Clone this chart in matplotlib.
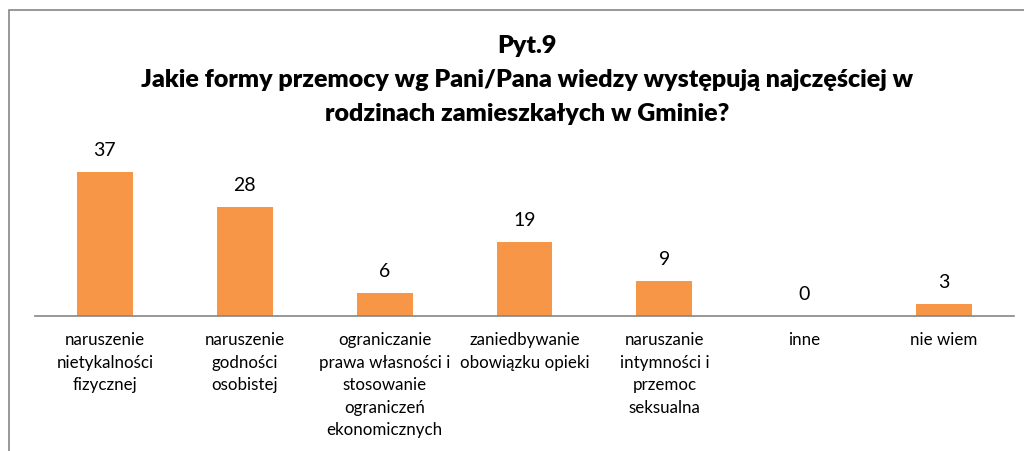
import matplotlib
matplotlib.use("Agg")
import matplotlib.pyplot as plt
from matplotlib.patches import Rectangle

plt.rcParams['font.family'] = ['Lato', 'Open Sans', 'DejaVu Sans']

categories = [
    "naruszenie\nnietykalności\nfizycznej",
    "naruszenie\ngodności\nosobistej",
    "ograniczanie\nprawa własności i\nstosowanie\nograniczeń\nekonomicznych",
    "zaniedbywanie\nobowiązku opieki",
    "naruszanie\nintymności i\nprzemoc\nseksualna",
    "inne",
    "nie wiem",
]
values = [37, 28, 6, 19, 9, 0, 3]
title = "Pyt.9\nJakie formy przemocy wg Pani/Pana wiedzy występują najczęściej w\nrodzinach zamieszkałych w Gminie?"

fig = plt.figure(figsize=(10.24, 4.52), dpi=100)
fig.patch.set_facecolor("white")

# chart frame (only top and left visible)
fig.add_artist(Rectangle((9/1024, -0.1), 1.2, (452-11)/452 + 0.1, transform=fig.transFigure,
                         fill=False, edgecolor="#868686", linewidth=1.2))

ax = fig.add_axes([35/1024, 135/452, 979/1024, 177/452])
x = list(range(len(values)))
bars = ax.bar(x, values, width=0.4, color="#F79646")
ax.set_xlim(-0.5, len(values) - 0.5)
ax.set_ylim(0, 177/3.89)
for s in ["top", "right", "left"]:
    ax.spines[s].set_visible(False)
ax.spines["bottom"].set_color("#868686")
ax.spines["bottom"].set_linewidth(1.2)
ax.set_yticks([])
ax.set_xticks(x)
ax.set_xticklabels(categories, fontsize=12.2, color="#000000", linespacing=1.5)
ax.tick_params(axis="x", length=0, pad=11)

for xi, v in zip(x, values):
    ax.annotate(str(v), (xi, v), xytext=(0, 10), textcoords="offset points",
                ha="center", va="bottom", fontsize=14, color="#000000")

fig.text(527/1024, 1 - 35/452, title, ha="center", va="top", fontsize=18,
         fontweight="heavy", linespacing=1.68)

fig.savefig("out.png", dpi=100, facecolor="white")
